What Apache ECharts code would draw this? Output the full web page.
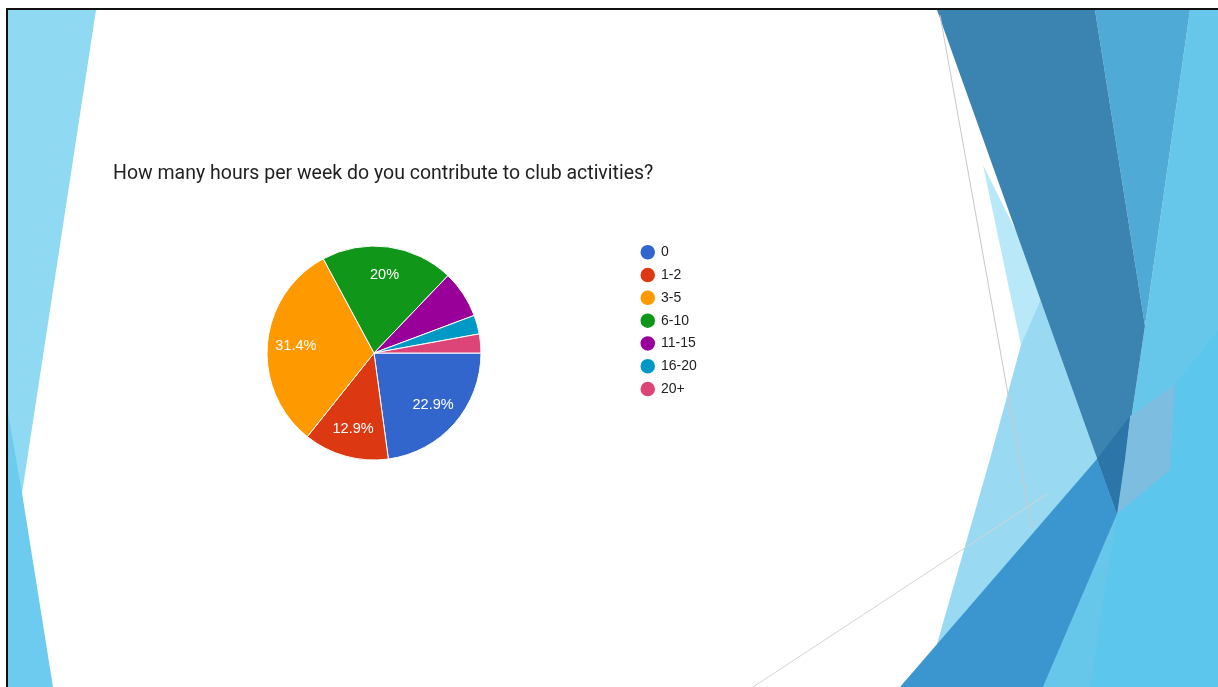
<!DOCTYPE html>
<html>
<head>
<meta charset="utf-8">
<title>Club activity hours</title>
<script src="https://cdn.jsdelivr.net/npm/echarts@6/dist/echarts.min.js"></script>
<style>
  html, body { margin: 0; padding: 0; background: #fff; }
  #chart { width: 1218px; height: 687px; }
</style>
</head>
<body>
<div id="chart"></div>
<script>
// Survey question and answers
const questionTitle = 'How many hours per week do you contribute to club activities?';
const hourBands = ['0', '1-2', '3-5', '6-10', '11-15', '16-20', '20+'];
const responseCounts = [16, 9, 22, 14, 5, 2, 2];
const sliceColors = ['#3366cc', '#dc3912', '#ff9900', '#109618', '#990099', '#0099c6', '#dd4477'];

const total = responseCounts.reduce((a, b) => a + b, 0);
const pieData = hourBands.map((name, i) => ({ name: name, value: responseCounts[i] }));

function percentText(v) {
  return (Math.round(v / total * 1000) / 10) + '%';
}

// Slide decoration: flat facets on both edges
function facet(points, fill, z) {
  return { type: 'polygon', silent: true, z: z || 0, shape: { points: points }, style: { fill: fill } };
}
function rule(x1, y1, x2, y2, color, w) {
  return { type: 'line', silent: true, z: 1, shape: { x1: x1, y1: y1, x2: x2, y2: y2 },
           style: { stroke: color, lineWidth: w } };
}

const decorations = [
  // left edge
  facet([[8, 10], [96, 10], [22, 493], [8, 493]], '#8fd9f3'),
  facet([[8, 413], [22, 493], [53, 687], [8, 687]], '#6ccbee'),
  // right edge
  facet([[983, 165], [1110, 420], [1021, 345]], '#b9e8f8'),
  facet([[925, 687], [937, 644], [990, 459], [1021, 345], [1045, 290], [1110, 290], [1180, 687]], '#9ad9f2'),
  facet([[1190, 10], [1218, 10], [1218, 687], [1043, 687], [1117, 514], [1145, 326]], '#67c7eb'),
  facet([[1175, 385], [1218, 330], [1218, 687], [1090, 687], [1117, 514], [1170, 470]], '#5dc6ec'),
  facet([[1095, 10], [1190, 10], [1145, 326]], '#50aad6'),
  facet([[937, 10], [1095, 10], [1145, 326], [1117, 514]], '#3b83b0'),
  facet([[1130, 416], [1175, 385], [1170, 470], [1117, 514]], '#7dbde0'),
  facet([[900, 687], [1097, 459], [1117, 514], [1043, 687]], '#3b96cf'),
  facet([[1097, 459], [1130, 416], [1125, 459], [1117, 514]], '#2c75a9'),
  rule(940, 15, 1032, 528, '#c8c8c8', 1),
  rule(753, 687, 1047, 494, '#d4d4d4', 1),
  // slide frame
  rule(7, 9, 1218, 9, '#111', 2),
  rule(7, 8, 7, 687, '#111', 2)
];

const chart = echarts.init(document.getElementById('chart'), null, { renderer: 'canvas' });

chart.setOption({
  backgroundColor: '#fff',
  animation: false,
  color: sliceColors,
  title: {
    text: questionTitle,
    left: 113,
    top: 164,
    padding: 0,
    textStyle: { fontFamily: 'Roboto', fontSize: 19.5, fontWeight: 'normal', color: '#222' }
  },
  legend: {
    orient: 'vertical',
    left: 638.5,
    top: 243,
    padding: 0,
    icon: 'circle',
    itemWidth: 16.5,
    itemHeight: 16.5,
    itemGap: 4.3,
    data: hourBands,
    textStyle: { fontFamily: 'Liberation Sans, Arial', fontSize: 14, color: '#222' }
  },
  graphic: decorations,
  series: [
    {
      name: 'Hours per week',
      type: 'pie',
      center: [374, 353],
      radius: 107,
      startAngle: 0,
      clockwise: true,
      avoidLabelOverlap: false,
      label: { show: false },
      labelLine: { show: false },
      itemStyle: { borderColor: '#fff', borderWidth: 1 },
      emphasis: { scale: false },
      data: pieData
    },
    {
      // percentage labels, placed further out than the slice midpoint
      name: 'Share',
      type: 'pie',
      center: [374, 353],
      radius: [44, 107],
      startAngle: 0,
      clockwise: true,
      silent: true,
      legendHoverLink: false,
      avoidLabelOverlap: false,
      itemStyle: { color: 'rgba(0,0,0,0)', borderWidth: 0 },
      labelLine: { show: false },
      label: {
        show: true,
        position: 'inside',
        color: '#fff',
        fontFamily: 'Liberation Sans, Arial',
        fontSize: 14.5,
        formatter: function (p) {
          return p.value / total >= 0.1 ? percentText(p.value) : '';
        }
      },
      data: pieData
    }
  ]
});
</script>
</body>
</html>
